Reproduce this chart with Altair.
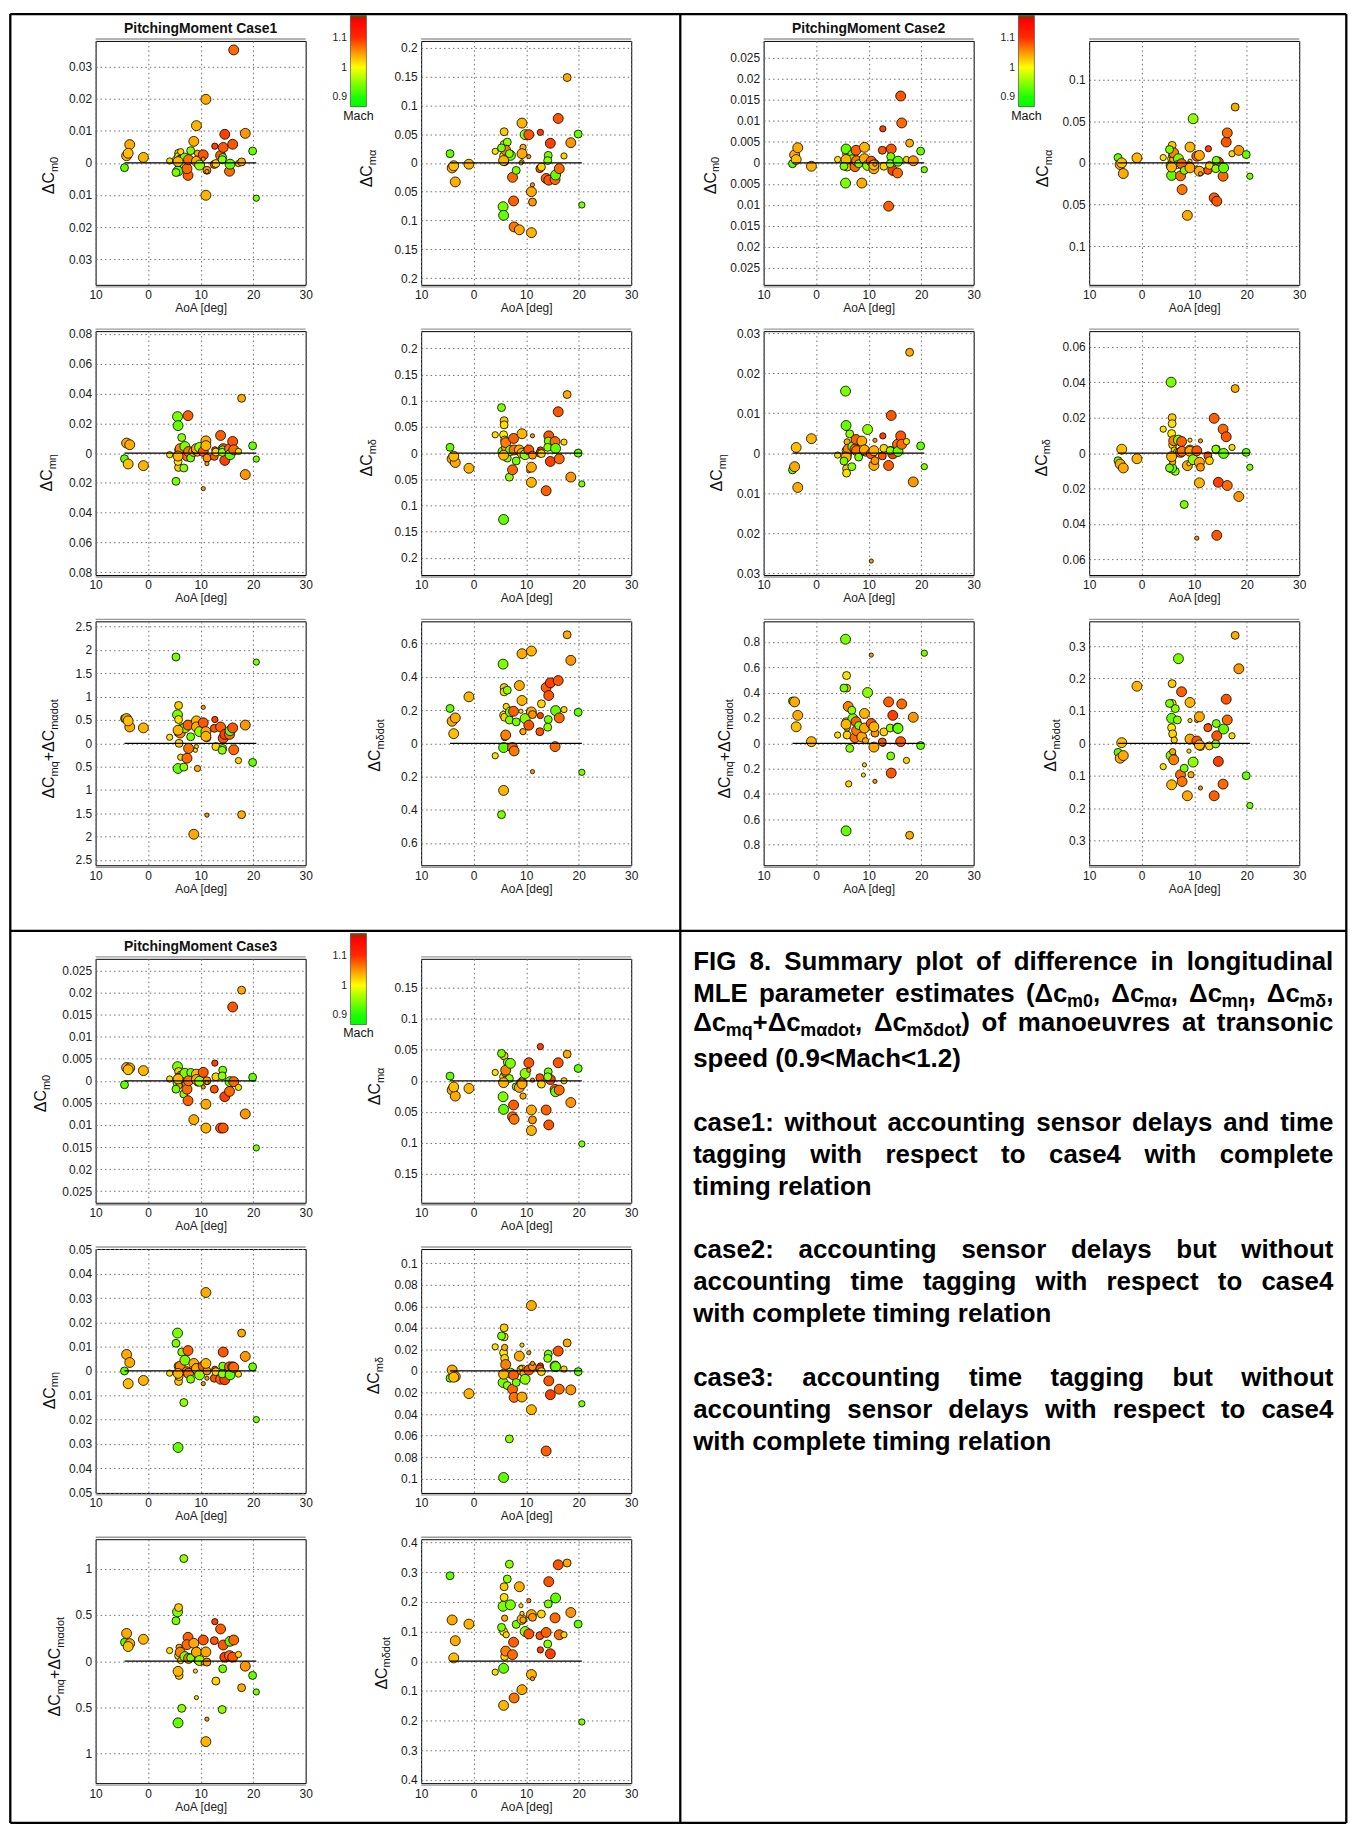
import re
import altair as alt
import pandas as pd

FONT = "Liberation Sans"
W, H = 211, 245
COLG, ROWG = 116, 46.5
BLKG_X = 132.3
SPROW = 1
# reference-frame origins of the block columns / rows (used only to place decorations)
BX = [91.7, 91.7 + 2 * W + COLG + BLKG_X]
BY = [33.0, 33.0 + 3 * H + 3 * ROWG + SPROW + ROWG]

# ---------------- data: manoeuvres (shared by all panels) ----------------
L, M, S, T = 100, 64, 40, 18
AOA = [-4.5, -4.1, -3.5, -3.8, -0.9, 4.1, 5.6, 5.8, 5.8, 6.4,
       5.7, 5.9, 6.2, 5.7, 5.9, 6.1, 7.0, 6.8, 7.6, 7.4,
       7.7, 8.1, 8.7, 9.2, 9.2, 9.0, 9.4, 9.2, 9.8, 10.5,
       10.5, 11.0, 11.2, 11.0, 11.2, 12.7, 12.6, 12.9, 13.8, 14.3,
       14.6, 14.2, 14.1, 15.5, 15.6, 16.1, 16.3, 17.2, 17.8, 18.5,
       19.9, 20.6, 5.7, 5.3]
MACH = [0.93, 1.04, 1.04, 1.03, 1.035, 1.015, 0.94, 1.025, 1.015, 0.95,
        1.01, 1.02, 1.02, 0.93, 1.04, 1.06, 0.94, 0.95, 1.075, 1.07,
        1.065, 0.94, 1.04, 1.035, 1.02, 1.015, 1.04, 1.04, 0.95, 1.08,
        1.05, 1.04, 1.05, 1.035, 1.05, 1.09, 1.08, 1.02, 1.075, 1.08,
        1.09, 0.94, 0.95, 1.07, 0.93, 1.08, 1.07, 1.02, 1.04, 1.05,
        0.93, 0.94, 1.035, 0.94]
SIZE = [M, L, L, L, L, S, L, M, M, M,
        M, M, S, L, S, L, L, M, L, L,
        L, M, L, L, T, T, S, L, L, L,
        T, L, M, L, T, S, M, M, L, L,
        L, M, M, L, L, L, L, S, M, L,
        M, S, L, M]

# ---------------- Case 1 ----------------
C1_M0 = [-0.0015, 0.0022, 0.0057, 0.0030, 0.0017, 0.0006, 0.0010, 0.0030, 0.0020, 0.0015,
         0.0005, -0.0008, 0.0035, -0.0025, 0.0012, 0.0008, 0.0015, -0.0005, -0.0039, -0.0018,
         0.0010, 0.0038, 0.0067, 0.0116, 0.0008, 0.0003, 0.0030, 0.0005, -0.0007, 0.0025,
         0.0012, 0.0198, -0.0023, -0.0101, -0.0027, 0.0052, -0.0005, -0.0002, 0.0023, 0.0048,
         0.0089, 0.0017, 0.0010, -0.0026, -0.0004, 0.0058, 0.0352, -0.0002, 0.0003, 0.0092,
         0.0037, -0.0110, 0.0004, -0.0030]
C1_MA = [0.016, -0.0087, -0.033, -0.005, -0.0023, 0.020, -0.076, 0.054, 0.032, 0.036,
         0.012, 0.002, 0.025, -0.091, 0.003, 0.022, 0.013, 0.016, -0.066, -0.025,
         -0.111, -0.013, -0.116, 0.069, 0.002, 0.0, 0.027, 0.016, 0.049, 0.049,
         0.011, -0.050, -0.068, -0.121, -0.038, 0.053, -0.010, -0.007, -0.027, -0.030,
         0.034, 0.013, 0.004, -0.029, -0.021, 0.077, -0.010, 0.012, 0.148, 0.035,
         0.050, -0.073, 0.004, 0.026]
C1_MH = [-0.0038, 0.0067, 0.0056, -0.0073, -0.0084, -0.0011, 0.0244, -0.0096, 0.0020, 0.0104,
         -0.0056, -0.0020, 0.0033, 0.0184, 0.0010, 0.0030, 0.0044, -0.0100, 0.0251, -0.0020,
         0.0010, -0.0033, 0.0011, 0.0020, 0.0005, 0.0010, 0.0000, 0.0030, 0.0038, 0.0011,
         -0.0238, 0.0082, -0.0033, 0.0050, -0.0071, 0.0022, -0.0022, 0.0007, 0.0118, 0.0030,
         -0.0049, 0.0022, 0.0005, 0.0029, -0.0011, 0.0078, 0.0022, 0.0011, 0.0367, -0.0144,
         0.0049, -0.0040, -0.0020, -0.0189]
C1_MD = [0.011, -0.011, -0.018, -0.006, -0.029, 0.035, 0.003, 0.062, 0.054, -0.0095,
         0.035, 0.025, 0.014, -0.127, 0.010, 0.020, 0.005, -0.046, 0.028, -0.032,
         0.006, -0.015, 0.006, 0.037, 0.005, 0.003, 0.000, 0.000, -0.003, 0.006,
         -0.034, -0.027, -0.004, -0.056, 0.033, 0.006, 0.000, -0.001, -0.072, 0.033,
         -0.016, 0.023, 0.011, 0.022, 0.009, 0.079, -0.011, 0.021, 0.112, -0.046,
         0.000, -0.059, -0.004, 0.087]
C1_MQ = [0.53, 0.53, 0.35, 0.48, 0.33, 0.13, 0.61, 0.81, 0.51, 0.33,
         0.23, 0.0, -0.30, -0.54, 0.30, 0.22, 0.33, -0.51, 0.39, -0.32,
         -0.11, 0.14, -1.95, 0.48, -0.07, -0.15, -0.54, 0.35, 0.25, 0.44,
         0.77, 0.25, 0.12, 0.15, -1.54, 0.51, 0.32, -0.07, 0.35, 0.11,
         0.19, -0.11, -0.15, 0.19, 0.27, 0.33, -0.14, -0.37, -1.53, 0.39,
         -0.41, 1.74, 0.28, 1.85]
C1_MDD = [0.21, 0.133, 0.153, 0.058, 0.28, -0.075, 0.477, 0.336, 0.31, 0.32,
          0.169, 0.157, 0.222, -0.026, 0.034, 0.05, 0.189, 0.14, 0.193, -0.026,
          -0.046, 0.129, 0.348, 0.258, 0.073, 0.193, 0.07, 0.54, 0.149, 0.109,
          0.197, 0.189, 0.173, 0.556, -0.171, 0.167, 0.07, 0.238, 0.336, 0.288,
          0.364, 0.143, 0.097, -0.02, 0.197, 0.378, 0.153, 0.203, 0.654, 0.5,
          0.187, -0.175, -0.284, -0.43]

# ---------------- Case 2 ----------------
C2_M0 = [-0.0002, 0.0019, 0.0036, 0.0008, -0.0008, 0.0008, -0.0048, 0.0021, 0.0002, 0.0016,
         0.0007, -0.0010, 0.0010, 0.0033, 0.0012, 0.0010, 0.0020, 0.0010, 0.0030, -0.0009,
         0.0005, -0.0002, -0.0048, 0.0037, 0.0005, 0.0003, 0.0000, 0.0010, -0.0006, 0.0004,
         0.0000, -0.0014, -0.0002, -0.0005, -0.0003, 0.0081, 0.0030, -0.0008, -0.0103, 0.0033,
         -0.0018, 0.0015, -0.0002, -0.0024, 0.0004, 0.0159, 0.0095, 0.0008, 0.0047, 0.0005,
         0.0028, -0.0016, 0.0008, -0.0008]
C2_MA = [0.0064, -0.002, -0.0128, 0.0, 0.006, 0.0064, -0.003, 0.021, -0.0156, -0.001,
         0.005, 0.009, 0.003, -0.015, 0.004, 0.012, 0.005, -0.002, -0.001, -0.0156,
         -0.032, -0.009, -0.063, 0.019, 0.002, -0.001, -0.004, -0.006, 0.053, 0.008,
         -0.006, 0.009, -0.010, -0.010, -0.013, 0.017, -0.009, -0.003, -0.042, -0.046,
         0.001, 0.003, -0.007, -0.016, -0.006, 0.025, 0.036, 0.011, 0.067, 0.015,
         0.010, -0.016, -0.005, 0.016]
C2_MH = [-0.0042, -0.0034, -0.0086, 0.0014, 0.0036, -0.0005, 0.0155, -0.0039, -0.0050, 0.0048,
         0.0006, -0.0010, -0.0002, 0.0069, 0.0028, 0.0010, 0.0016, -0.0034, 0.0034, 0.0010,
         0.0006, -0.0010, 0.0030, 0.0007, 0.0005, 0.0000, 0.0000, 0.0008, 0.0059, -0.0002,
         -0.0270, -0.0031, -0.0019, 0.0006, 0.0032, 0.0043, -0.0007, 0.0012, -0.0031, 0.0094,
         -0.0002, 0.0007, 0.0006, 0.0022, 0.0004, 0.0043, 0.0022, 0.0029, 0.0252, -0.0072,
         0.0018, -0.0034, -0.0010, -0.0020]
C2_MD = [-0.0043, -0.0062, -0.0084, 0.0022, -0.0032, 0.0135, 0.040, 0.020, 0.0166, -0.0103,
         0.011, 0.0047, 0.0017, -0.0084, -0.005, 0.007, 0.0073, 0.0004, 0.0065, 0.0004,
         0.001, -0.029, -0.0071, 0.0017, 0.0073, -0.006, 0.0, 0.001, -0.0037, 0.0013,
         -0.048, -0.0052, -0.008, -0.0168, 0.0069, -0.0024, -0.0015, -0.0043, 0.0196, -0.0464,
         -0.0165, 0.0022, 0.0022, 0.0135, -0.0002, 0.0092, -0.0183, 0.0032, 0.0364, -0.0245,
         0.0004, -0.008, -0.002, -0.0084]
C2_MQ = [0.333, 0.326, 0.22, 0.13, 0.013, 0.065, 0.82, 0.435, 0.534, -0.04,
         0.17, 0.065, -0.32, -0.69, 0.12, 0.29, 0.195, 0.26, 0.17, 0.044,
         0.10, 0.14, 0.05, 0.235, -0.17, -0.25, 0.02, 0.12, 0.40, 0.156,
         0.695, -0.03, 0.08, 0.13, -0.30, 0.0, 0.01, 0.09, 0.326, -0.235,
         0.22, -0.10, 0.12, 0.12, 0.117, 0.013, 0.31, -0.135, -0.725, 0.205,
         -0.018, 0.71, 0.15, 0.435]
C2_MDD = [-0.028, -0.046, -0.038, 0.002, 0.176, -0.072, -0.038, 0.184, 0.123, 0.107,
          0.048, 0.029, 0.010, 0.077, -0.026, -0.051, 0.261, 0.072, 0.159, -0.097,
          -0.118, -0.077, -0.162, 0.126, 0.070, -0.024, -0.097, 0.013, -0.058, 0.007,
          0.070, 0.082, -0.010, -0.005, -0.138, 0.051, 0.048, -0.008, -0.162, 0.023,
          -0.056, 0.061, -0.002, -0.126, 0.044, 0.136, 0.072, 0.023, 0.333, 0.230,
          -0.100, -0.192, -0.128, 0.123]

# ---------------- Case 3 ----------------
C3_M0 = [-0.0009, 0.0030, 0.0029, 0.0025, 0.0023, 0.0004, 0.0032, 0.0021, 0.0009, 0.0011,
         0.0000, -0.0008, 0.0015, -0.0004, -0.0011, 0.0006, 0.0017, -0.0030, -0.0045, -0.0019,
         0.0000, 0.0019, -0.0088, 0.0015, -0.0004, 0.0003, -0.0005, 0.0003, -0.0001, 0.0019,
         -0.0014, -0.0053, 0.0000, -0.0107, -0.0004, 0.0040, -0.0019, 0.0009, -0.0107, -0.0107,
         -0.0036, 0.0024, 0.0011, -0.0024, -0.0002, 0.0167, -0.0002, -0.0015, 0.0205, -0.0075,
         0.0008, -0.0152, 0.0004, -0.0019]
C3_MA = [0.0075, -0.015, -0.0246, -0.010, -0.0123, 0.0134, -0.0257, 0.040, 0.000, 0.030,
         0.0064, -0.0016, 0.0037, -0.046, 0.012, 0.017, 0.028, 0.0037, -0.039, -0.058,
         -0.062, -0.0096, -0.0107, -0.003, 0.003, -0.001, -0.0246, -0.005, 0.0118, 0.029,
         0.017, -0.047, -0.063, -0.080, 0.001, 0.055, 0.005, -0.0053, -0.047, -0.071,
         0.002, 0.0144, 0.0064, -0.0139, -0.0176, 0.029, -0.015, 0.000, 0.0428, -0.035,
         0.0198, -0.1016, -0.003, 0.044]
C3_MH = [0.0000, 0.0068, 0.0035, -0.0052, -0.0039, -0.0009, 0.0156, -0.0043, -0.0016, 0.0078,
         0.0020, -0.0023, 0.0010, -0.0315, 0.0015, 0.0020, 0.0044, -0.0130, 0.0084, -0.0003,
         -0.0010, -0.0034, 0.0031, 0.0010, 0.0000, -0.0005, 0.0008, 0.0010, -0.0016, 0.0020,
         -0.0052, 0.0323, 0.0000, 0.0031, -0.0030, 0.0007, -0.0030, -0.0003, -0.0034, 0.0078,
         -0.0036, 0.0020, -0.0012, 0.0017, -0.0016, 0.0017, 0.0015, -0.0013, 0.0156, 0.0060,
         0.0017, -0.0200, -0.0010, 0.0114]
C3_MD = [-0.0067, 0.0009, -0.0052, -0.0058, -0.0210, 0.0224, -0.0107, 0.0400, 0.0316, -0.0135,
         0.0169, 0.0117, 0.0055, -0.0988, 0.0218, 0.0060, -0.0020, -0.0630, -0.0037, -0.0169,
         -0.0245, -0.0107, 0.0138, 0.0009, 0.0240, 0.0030, -0.0020, -0.0242, -0.0077, 0.0009,
         0.0169, 0.0607, 0.0040, -0.0359, 0.0070, 0.0046, 0.0020, -0.0006, -0.0742, -0.0092,
         -0.0220, 0.0156, 0.0117, 0.0046, 0.0040, 0.0184, -0.0169, 0.0018, 0.0260, -0.0175,
         -0.0006, -0.0304, -0.0030, 0.0325]
C3_MQ = [0.204, 0.30, 0.19, 0.158, 0.237, 0.115, 0.534, 0.58, 0.06, -0.51,
         -0.107, -0.154, 0.007, -0.667, 0.15, 0.097, 0.05, 1.11, 0.258, 0.179,
         0.03, 0.036, 0.193, 0.097, -0.394, -0.107, 0.0, 0.097, 0.007, 0.229,
         -0.02, 0.10, -0.01, -0.87, -0.627, 0.427, 0.222, -0.215, 0.348, 0.175,
         0.043, -0.082, -0.523, 0.06, 0.215, 0.043, 0.229, 0.072, -0.287, -0.054,
         -0.154, -0.333, -0.11, 0.437]
C3_MDD = [0.288, 0.139, 0.069, 0.011, 0.125, -0.037, 0.185, 0.251, 0.215, 0.277,
          0.100, 0.016, 0.089, -0.024, 0.145, 0.034, 0.190, 0.327, 0.064, 0.022,
          -0.124, 0.124, 0.251, 0.141, 0.161, 0.187, 0.139, -0.096, 0.100, 0.092,
          0.204, 0.157, 0.148, -0.045, -0.059, 0.038, 0.086, 0.159, 0.097, 0.268,
          0.025, 0.193, 0.058, 0.146, 0.213, 0.325, 0.089, 0.089, 0.331, 0.164,
          0.125, -0.205, -0.149, 0.114]

# ---------------- axes ----------------
XT = [-10, 0, 10, 20, 30]
T_C1 = [[-0.03, -0.02, -0.01, 0, 0.01, 0.02, 0.03],
        [-0.2, -0.15, -0.1, -0.05, 0, 0.05, 0.1, 0.15, 0.2],
        [-0.08, -0.06, -0.04, -0.02, 0, 0.02, 0.04, 0.06, 0.08],
        [-0.2, -0.15, -0.1, -0.05, 0, 0.05, 0.1, 0.15, 0.2],
        [-2.5, -2, -1.5, -1, -0.5, 0, 0.5, 1, 1.5, 2, 2.5],
        [-0.6, -0.4, -0.2, 0, 0.2, 0.4, 0.6]]
T_C2 = [[-0.025, -0.02, -0.015, -0.01, -0.005, 0, 0.005, 0.01, 0.015, 0.02, 0.025],
        [-0.1, -0.05, 0, 0.05, 0.1],
        [-0.03, -0.02, -0.01, 0, 0.01, 0.02, 0.03],
        [-0.06, -0.04, -0.02, 0, 0.02, 0.04, 0.06],
        [-0.8, -0.6, -0.4, -0.2, 0, 0.2, 0.4, 0.6, 0.8],
        [-0.3, -0.2, -0.1, 0, 0.1, 0.2, 0.3]]
T_C3 = [[-0.025, -0.02, -0.015, -0.01, -0.005, 0, 0.005, 0.01, 0.015, 0.02, 0.025],
        [-0.15, -0.1, -0.05, 0, 0.05, 0.1, 0.15],
        [-0.05, -0.04, -0.03, -0.02, -0.01, 0, 0.01, 0.02, 0.03, 0.04, 0.05],
        [-0.1, -0.08, -0.06, -0.04, -0.02, 0, 0.02, 0.04, 0.06, 0.08, 0.1],
        [-1, -0.5, 0, 0.5, 1],
        [-0.4, -0.3, -0.2, -0.1, 0, 0.1, 0.2, 0.3, 0.4]]
HALF_C1 = [0.0380, 0.2115, 0.0817, 0.2333, 2.614, 0.735]
HALF_C2 = [0.0290, 0.1464, 0.0305, 0.0688, 0.961, 0.3763]
HALF_C3 = [0.0276, 0.1962, 0.0502, 0.1131, 1.319, 0.4112]
TX_C1 = [-41.7, -49, -43.4, -49, -41.7, -41]
TX_C2 = [-48, -41, -41.4, -42.7, -34, -33]
TX_C3 = [-49.8, -41.2, -41, -42, -35.5, -34.7]

KINDS = ["m0", "ma", "mh", "md", "mq", "mdd"]
SEGS = {"m0": [("ΔC", 0), ("m0", 1)],
        "ma": [("ΔC", 0), ("mα", 1)],
        "mh": [("ΔC", 0), ("mη", 1)],
        "md": [("ΔC", 0), ("mδ", 1)],
        "mq": [("ΔC", 0), ("mq", 1), ("+ΔC", 0), ("mαdot", 1)],
        "mdd": [("ΔC", 0), ("mδdot", 1)]}
TY = {"m0": 154, "ma": 147, "mh": 161, "md": 146, "mq": 178, "mdd": 151}
YT_FS, YT_SUB_FS, YT_SUB_DX = 16, 11, 3.5

MACH_DOMAIN = [0.867, 0.90, 1.00, 1.10, 1.16, 1.166, 1.174]
MACH_COLORS = ["#00ff00", "#1eff00", "#ffff00", "#ff2a00", "#ff0000", "#b02000", "#3c6e00"]
CB_TICKS = [0.9, 1.0, 1.1]
CSCALE = alt.Scale(domain=MACH_DOMAIN, range=MACH_COLORS, interpolate="rgb")
GRAD = {"gradient": "linear", "x1": 0, "y1": 1, "x2": 0, "y2": 0,
        "stops": [{"offset": (v - MACH_DOMAIN[0]) / (MACH_DOMAIN[-1] - MACH_DOMAIN[0]), "color": c}
                  for v, c in zip(MACH_DOMAIN, MACH_COLORS)]}

CAPTION = [
    ("FIG 8. Summary plot of difference in longitudinal", True),
    ("MLE parameter estimates (Δc{m0}, Δc{mα}, Δc{mη}, Δc{mδ},", True),
    ("Δc{mq}+Δc{mαdot}, Δc{mδdot}) of manoeuvres at transonic", True),
    ("speed (0.9<Mach<1.2)", False),
    ("case1: without accounting sensor delays and time", True),
    ("tagging with respect to case4 with complete", True),
    ("timing relation", False),
    ("case2: accounting sensor delays but without", True),
    ("accounting time tagging with respect to case4", True),
    ("with complete timing relation", False),
    ("case3: accounting time tagging but without", True),
    ("accounting sensor delays with respect to case4", True),
    ("with complete timing relation", False),
]
CAP_BASE = [966, 998, 1028, 1064, 1128, 1160, 1192, 1256, 1288, 1320, 1384, 1416, 1448]

# ---------------- text metrics (Arial-compatible) ----------------
AR = {"Δ": 668, "C": 722, "m": 833, "0": 556, "α": 578, "η": 556, "δ": 556, "q": 556,
      "+": 584, "d": 556, "o": 556, "t": 278}
AB = {" ": 278, "(": 333, ")": 333, "+": 584, ",": 278, ".": 278, ":": 333, "<": 584,
      "A": 722, "C": 722, "E": 667, "F": 611, "G": 778, "I": 278, "L": 611, "M": 833, "S": 667,
      "a": 556, "b": 611, "c": 556, "d": 611, "e": 556, "f": 333, "g": 611, "h": 611, "i": 278,
      "j": 278, "k": 556, "l": 278, "m": 889, "n": 611, "o": 611, "p": 611, "q": 611, "r": 389,
      "s": 556, "t": 333, "u": 611, "v": 556, "w": 778, "x": 556, "y": 556, "z": 500,
      "Δ": 700, "α": 611, "η": 611, "δ": 611}


def tw(s, fs, table):
    return sum(table.get(ch, 556) for ch in s) * fs / 1000.0


def parse(word):
    out = []
    for m in re.finditer(r"\{([^}]*)\}|([^{]+)", word):
        if m.group(1) is not None:
            out.append((m.group(1), True))
        else:
            out.append((m.group(2), False))
    return out


LBL = "format(abs(datum.value), '~g')"
AXC = dict(grid=True, gridDash=[1.5, 3], gridColor="#6e6e6e", gridWidth=1, domain=False,
           ticks=False, tickSize=0, labelFontSize=12, labelColor="#1a1a1a", labelFont=FONT,
           labelFlush=False, labelOverlap=False, titleFontSize=12, titleFontWeight="normal",
           titleColor="#222", titleFont=FONT)


def one_row():
    return pd.DataFrame({"a": [0]})


def make_panel(vals, half, ticks, kind, tx, extras):
    df = pd.DataFrame({"aoa": AOA, "mach": MACH, "sz": SIZE, "v": vals})
    pts = alt.Chart(df).mark_circle(stroke="black", strokeWidth=0.8, opacity=1).encode(
        x=alt.X("aoa:Q", scale=alt.Scale(domain=[-10, 30], nice=False, zero=False),
                axis=alt.Axis(values=XT, title="AoA [deg]", labelExpr=LBL,
                              labelPadding=5, titlePadding=2, **AXC)),
        y=alt.Y("v:Q", scale=alt.Scale(domain=[-half, half], nice=False, zero=False),
                axis=alt.Axis(values=ticks, title=None, labelExpr=LBL, labelPadding=4, **AXC)),
        fill=alt.Fill("mach:Q", scale=CSCALE, legend=None),
        size=alt.Size("sz:Q", scale=None, legend=None),
    )
    # zero reference line, from the smallest to the largest AoA of the data
    zdf = pd.DataFrame({"x1": [min(AOA)], "x2": [max(AOA)], "y": [0.0]})
    zero = alt.Chart(zdf).mark_rule(color="black", strokeWidth=1.3).encode(
        x=alt.X("x1:Q", scale=alt.Scale(domain=[-10, 30], nice=False, zero=False), axis=None),
        x2=alt.X2("x2"),
        y=alt.Y("y:Q", scale=alt.Scale(domain=[-half, half], nice=False, zero=False), axis=None))

    rows = []
    pos = TY[kind]
    for txt, sub in SEGS[kind]:
        fs = YT_SUB_FS if sub else YT_FS
        rows.append({"px": tx + (YT_SUB_DX if sub else 0.0), "py": pos, "t": txt, "fs": fs})
        pos -= tw(txt, fs, AR)
    ytitle = alt.Chart(pd.DataFrame(rows)).mark_text(
        angle=270, align="left", baseline="alphabetic", color="#111", font=FONT).encode(
        x=alt.X("px:Q", scale=None, axis=None), y=alt.Y("py:Q", scale=None, axis=None),
        text="t:N", size=alt.Size("fs:Q", scale=None, legend=None))

    g1 = alt.Chart(one_row()).mark_rule(color="#9a9a9a", strokeWidth=1.4).encode(
        x=alt.value(0), x2=alt.value(W), y=alt.value(-2))
    g2 = alt.Chart(one_row()).mark_rule(color="#9a9a9a", strokeWidth=1.4).encode(
        x=alt.value(0), x2=alt.value(W), y=alt.value(H + 2))

    layers = [pts, zero, ytitle, g1, g2] + extras
    return alt.layer(*layers).resolve_scale(x="independent", y="independent").properties(
        width=W, height=H)


def colorbar():
    cdf = pd.DataFrame({"lo": [MACH_DOMAIN[0]], "hi": [MACH_DOMAIN[-1]]})
    bar = alt.Chart(cdf).mark_rect(fill=GRAD, stroke="#333", strokeWidth=0.6).encode(
        x=alt.value(-71), x2=alt.value(-55),
        y=alt.Y("lo:Q", scale=alt.Scale(domain=[MACH_DOMAIN[0], MACH_DOMAIN[-1]],
                                        range=[66, -25.5], nice=False, zero=False),
                axis=alt.Axis(orient="left", offset=71, values=CB_TICKS,
                              labelExpr="format(datum.value, '~g')", grid=False, domain=False,
                              ticks=False, tickSize=0, labelPadding=4, labelFontSize=10.5,
                              labelColor="#222", labelFont=FONT, title=None, labelFlush=False,
                              labelOverlap=False)),
        y2=alt.Y2("hi"))
    txt = alt.Chart(pd.DataFrame({"t": ["Mach"]})).mark_text(
        fontSize=12.5, align="center", baseline="alphabetic", color="#111", font=FONT).encode(
        text="t:N", x=alt.value(-63), y=alt.value(79))
    return [bar, txt]


def case_title(s):
    return alt.Chart(pd.DataFrame({"t": [s]})).mark_text(
        fontSize=14, fontWeight="bold", align="center", baseline="alphabetic", color="#111",
        font=FONT).encode(text="t:N", x=alt.value(W / 2), y=alt.value(-8))


def spacer(w, h):
    return alt.Chart(one_row()).mark_point(opacity=0, size=1).encode(
        x=alt.value(1), y=alt.value(1)).properties(
        width=w, height=h, view=alt.ViewBackground(strokeOpacity=0))


# ---- frame lines (reference-frame coordinates, drawn from the first panel) ----
ox, oy = BX[0], BY[0]
BL_, BR_, BT_, BB_, MXL, MYL = 6, 1348, 6, 1823, 679, 927
bdf = pd.DataFrame({
    "x": [BL_, BL_, BL_, BR_, MXL, BL_], "x2": [BR_, BR_, BL_, BR_, MXL, BR_],
    "y": [BT_, BB_, BT_, BT_, BT_, MYL], "y2": [BT_, BB_, BB_, BB_, BB_, MYL]})
for c in ["x", "x2"]:
    bdf[c] = bdf[c] - ox
for c in ["y", "y2"]:
    bdf[c] = bdf[c] - oy
border = alt.Chart(bdf).mark_rule(color="black", strokeWidth=2.3).encode(
    x=alt.X("x:Q", scale=None, axis=None), x2=alt.X2("x2"),
    y=alt.Y("y:Q", scale=None, axis=None), y2=alt.Y2("y2"))

# ---- caption (justified, with subscripts) drawn from case-3 second panel ----
cox, coy = BX[0] + W + COLG, BY[1]
CAP_LEFT, CAP_RIGHT = 692.0, 1335.0
CAP_FS, CAP_SUB_FS, CAP_SUB_DY = 26, 18, 5
crow = []
for (line, just), base in zip(CAPTION, CAP_BASE):
    words = [parse(w) for w in line.split(" ")]
    widths = [sum(tw(s, CAP_SUB_FS if sub else CAP_FS, AB) for s, sub in wd) for wd in words]
    if just and len(words) > 1:
        gap = (CAP_RIGHT - CAP_LEFT - sum(widths)) / (len(words) - 1)
    else:
        gap = tw(" ", CAP_FS, AB)
    x = CAP_LEFT
    for wd, wdt in zip(words, widths):
        xx = x
        for s, sub in wd:
            fs = CAP_SUB_FS if sub else CAP_FS
            crow.append({"px": xx - cox, "py": base + (CAP_SUB_DY if sub else 0) - coy,
                         "t": s, "fs": fs})
            xx += tw(s, fs, AB)
        x += wdt + gap
caption = alt.Chart(pd.DataFrame(crow)).mark_text(
    align="left", baseline="alphabetic", fontWeight="bold", color="black", font=FONT).encode(
    x=alt.X("px:Q", scale=None, axis=None), y=alt.Y("py:Q", scale=None, axis=None),
    text="t:N", size=alt.Size("fs:Q", scale=None, legend=None))

CASES = [
    ("PitchingMoment Case1", [C1_M0, C1_MA, C1_MH, C1_MD, C1_MQ, C1_MDD], HALF_C1, T_C1, TX_C1),
    ("PitchingMoment Case2", [C2_M0, C2_MA, C2_MH, C2_MD, C2_MQ, C2_MDD], HALF_C2, T_C2, TX_C2),
    ("PitchingMoment Case3", [C3_M0, C3_MA, C3_MH, C3_MD, C3_MQ, C3_MDD], HALF_C3, T_C3, TX_C3),
]

P = {}
for ci, (title, vals, halves, ticks, txs) in enumerate(CASES):
    for k in range(6):
        extras = []
        if k == 0:
            extras.append(case_title(title))
            if ci == 0:
                extras.append(border)
        if k == 1:
            extras += colorbar()
            if ci == 2:
                extras.append(caption)
        P[(ci, k // 2, k % 2)] = make_panel(vals[k], halves[k], ticks[k], KINDS[k], txs[k], extras)

COLW = [W, COLG, W, BLKG_X, W, COLG, W]
cells = []
for r in range(3):
    cells += [P[(0, r, 0)], spacer(COLG, H), P[(0, r, 1)], spacer(BLKG_X, H),
              P[(1, r, 0)], spacer(COLG, H), P[(1, r, 1)]]
cells += [spacer(w, SPROW) for w in COLW]
for r in range(3):
    cells += [P[(2, r, 0)], spacer(COLG, H), P[(2, r, 1)], spacer(BLKG_X, H),
              spacer(W, H), spacer(COLG, H), spacer(W, H)]

chart = alt.concat(*cells, columns=7, spacing={"row": ROWG, "column": 0}, bounds="flush").properties(
    padding=0, background="white")
chart = chart.configure(font=FONT).configure_view(stroke="black", strokeWidth=1)

chart.save("out.html", embed_options={"renderer": "svg", "actions": False})
